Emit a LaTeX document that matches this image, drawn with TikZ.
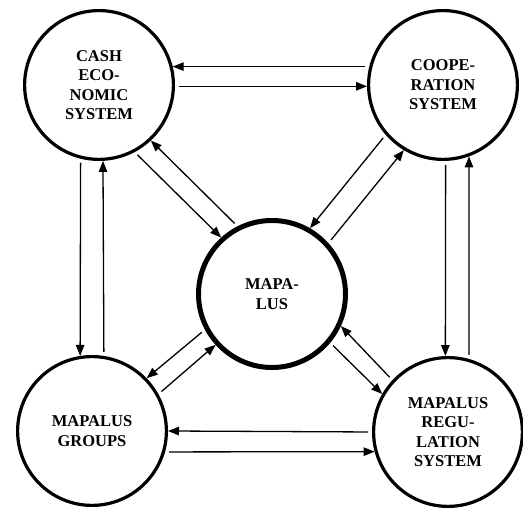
\documentclass[tikz,border=0pt]{standalone}
\usepackage{fontspec}
\setmainfont{Liberation Serif}
\newfontfamily\sysfont{Liberation Serif Bold}
\usetikzlibrary{arrows.meta}

\begin{document}
\begin{tikzpicture}[x=1pt,y=1pt,
		sys/.style={circle,draw,line width=3.2pt,minimum size=148.8pt,inner sep=0pt,align=center,font=\sysfont\fontsize{16.5}{19.5}\selectfont},
		hub/.style={sys,line width=5pt,minimum size=147pt},
		flow/.style={line width=1.3pt,-{Triangle[length=11pt,width=8.5pt]},shorten <=4pt}]
		\useasboundingbox (0,0) rectangle (523,510);
		\node[sys] (cash) at (99,425) {CASH\\ECO-\\NOMIC\\SYSTEM};
		\node[sys] (coop) at (443,425) {COOPE-\\RATION\\SYSTEM};
		\node[hub] (mapalus) at (272,216) {MAPA-\\LUS};
		\node[sys] (groups) at (92,79) {MAPALUS\\GROUPS};
		\node[sys] (regul) at (448,78) {MAPALUS\\REGU-\\LATION\\SYSTEM};
		\draw[flow] (coop.166) -- (cash.14);
		\draw[flow] (cash.-1.5) -- (coop.181.5);
		\draw[flow] (cash.-104.5) -- (groups.99);
		\draw[flow] (groups.81.7) -- (cash.-87);
		\draw[flow] (coop.-88.5) -- (regul.92.3);
		\draw[flow] (regul.74.7) -- (coop.-70.8);
		\draw[flow] (regul.180) -- (groups.-0.75);
		\draw[flow] (groups.-16) -- (regul.195.3);
		\draw[flow] (cash.-62.3) -- (mapalus.132.9);
		\draw[flow] (mapalus.117.7) -- (cash.-47.1);
		\draw[flow] (coop.-139.1) -- (mapalus.60.6);
		\draw[flow] (mapalus.42.6) -- (coop.-121.1);
		\draw[flow] (mapalus.-152.6) -- (groups.44.1);
		\draw[flow] (groups.29.6) -- (mapalus.-138.2);
		\draw[flow] (regul.137.2) -- (mapalus.-25.8);
		\draw[flow] (mapalus.-40.3) -- (regul.150.8);
\end{tikzpicture}
\end{document}
